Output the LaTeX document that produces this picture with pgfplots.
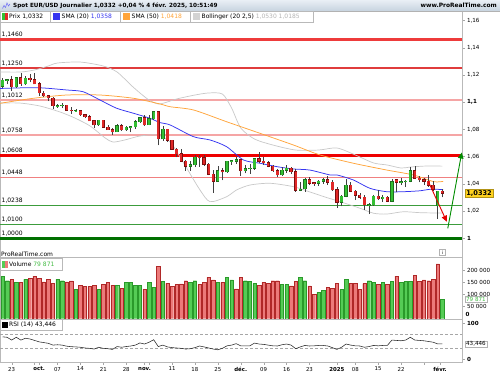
\documentclass[border=0pt]{standalone}
\usepackage{fontspec}
\setmainfont{DejaVu Sans}
\usepackage{pgfplots}
\usepackage{pgfplotstable}
\pgfplotsset{compat=1.18}
\usetikzlibrary{arrows.meta}

\definecolor{cgreen}{HTML}{33C033}
\definecolor{cgreenD}{HTML}{1E6E1E}
\definecolor{cred}{HTML}{E02828}
\definecolor{credD}{HTML}{7A0E0E}
\definecolor{vgreen}{HTML}{55CC55}
\definecolor{vgreenD}{HTML}{2A9A2A}
\definecolor{vred}{HTML}{EC7A7A}
\definecolor{vredD}{HTML}{B02828}
\definecolor{smablue}{HTML}{3535F0}
\definecolor{smaorange}{HTML}{FFA43A}
\definecolor{bollgray}{HTML}{C8C8C8}
\definecolor{lvA}{HTML}{EE3B3B}
\definecolor{lvB}{HTML}{E03C3C}
\definecolor{lvC}{HTML}{F5A5A5}
\definecolor{lvD}{HTML}{EE0000}
\definecolor{lvE}{HTML}{F08080}
\definecolor{lvF}{HTML}{3C9C3C}
\definecolor{lvG}{HTML}{007000}
\definecolor{pbox}{HTML}{FFD21F}
\definecolor{vtxt}{HTML}{44BB44}
\definecolor{hdrA}{HTML}{E9EFF5}
\definecolor{hdrB}{HTML}{C7D3DF}

\newcommand\fs{\fontsize{6}{7}\selectfont}
\newcommand\fss{\fontsize{5.6}{6.5}\selectfont}

\pgfplotstableread{
d O H L C V G
-2 1.1117 1.1180 1.1102 1.1160 175 1
-1 1.1160 1.1168 1.1130 1.1163 156 1
0 1.1165 1.1190 1.1083 1.1111 162 0
1 1.1111 1.1181 1.1106 1.1180 149 1
2 1.1180 1.1214 1.1121 1.1135 149 0
3 1.1133 1.1190 1.1125 1.1177 162 1
4 1.1177 1.1209 1.1145 1.1163 167 0
5 1.1164 1.1210 1.1131 1.1134 175 0
6 1.1134 1.1151 1.1046 1.1067 167 0
7 1.1067 1.1084 1.1034 1.1047 151 0
8 1.1047 1.1052 1.1007 1.1030 162 0
9 1.1030 1.1038 1.0952 1.0975 144 0
10 1.0972 1.0987 1.0960 1.0975 162 1
11 1.0975 1.0992 1.0955 1.0978 156 1
12 1.0978 1.0982 1.0939 1.0940 151 0
13 1.0940 1.0963 1.0915 1.0937 155 0
14 1.0935 1.0951 1.0929 1.0938 121 1
15 1.0938 1.0942 1.0900 1.0908 138 0
16 1.0908 1.0913 1.0883 1.0893 133 0
17 1.0893 1.0905 1.0860 1.0862 133 0
18 1.0862 1.0872 1.0811 1.0832 138 0
19 1.0832 1.0868 1.0825 1.0867 121 1
20 1.0867 1.0870 1.0811 1.0816 140 0
21 1.0816 1.0835 1.0798 1.0798 149 0
22 1.0798 1.0810 1.0761 1.0781 138 0
23 1.0781 1.0839 1.0780 1.0826 138 1
24 1.0826 1.0836 1.0790 1.0796 125 0
25 1.0796 1.0823 1.0790 1.0816 149 1
26 1.0812 1.0822 1.0778 1.0818 149 1
27 1.0818 1.0870 1.0802 1.0856 138 1
28 1.0856 1.0889 1.0847 1.0884 138 1
29 1.0884 1.0905 1.0828 1.0833 121 0
30 1.0833 1.0906 1.0830 1.0877 149 1
31 1.0877 1.0937 1.0870 1.0930 129 1
32 1.0930 1.0937 1.0682 1.0730 216 0
33 1.0730 1.0826 1.0715 1.0800 153 1
34 1.0800 1.0806 1.0710 1.0720 145 0
35 1.0720 1.0722 1.0650 1.0655 133 0
36 1.0655 1.0665 1.0595 1.0622 140 0
37 1.0622 1.0653 1.0560 1.0565 143 0
38 1.0565 1.0572 1.0497 1.0530 156 0
39 1.0530 1.0570 1.0495 1.0540 149 1
40 1.0540 1.0608 1.0522 1.0597 156 1
41 1.0597 1.0610 1.0525 1.0592 140 0
42 1.0592 1.0610 1.0531 1.0545 149 0
43 1.0545 1.0550 1.0462 1.0470 170 0
44 1.0470 1.0498 1.0333 1.0418 159 0
45 1.0418 1.0528 1.0418 1.0495 149 1
46 1.0495 1.0514 1.0425 1.0487 149 0
47 1.0487 1.0570 1.0480 1.0565 170 1
48 1.0565 1.0572 1.0540 1.0568 159 1
49 1.0565 1.0595 1.0545 1.0578 122 0
50 1.0578 1.0580 1.0460 1.0497 170 0
51 1.0497 1.0536 1.0477 1.0510 156 1
52 1.0510 1.0545 1.0474 1.0514 152 1
53 1.0514 1.0587 1.0505 1.0585 144 1
54 1.0585 1.0630 1.0555 1.0567 138 0
55 1.0567 1.0594 1.0540 1.0555 149 0
56 1.0555 1.0565 1.0520 1.0528 144 0
57 1.0528 1.0540 1.0490 1.0496 156 0
58 1.0496 1.0506 1.0450 1.0466 156 0
59 1.0466 1.0524 1.0460 1.0500 140 1
60 1.0500 1.0535 1.0483 1.0513 140 1
61 1.0513 1.0522 1.0472 1.0490 135 0
62 1.0490 1.0510 1.0343 1.0353 154 0
63 1.0353 1.0414 1.0345 1.0362 170 1
64 1.0362 1.0445 1.0343 1.0430 156 1
65 1.0430 1.0447 1.0390 1.0405 135 0
66 1.0407 1.0417 1.0385 1.0403 101 0
67 1.0403 1.0427 1.0385 1.0420 108 1
68 1.0420 1.0446 1.0400 1.0430 115 1
69 1.0430 1.0456 1.0395 1.0410 129 0
70 1.0410 1.0426 1.0350 1.0355 126 0
71 1.0355 1.0375 1.0225 1.0265 144 0
72 1.0265 1.0315 1.0235 1.0307 121 1
73 1.0307 1.0437 1.0300 1.0390 162 1
74 1.0390 1.0410 1.0340 1.0345 144 0
75 1.0345 1.0356 1.0280 1.0315 144 0
76 1.0315 1.0335 1.0290 1.0300 121 0
77 1.0300 1.0315 1.0210 1.0245 144 0
78 1.0240 1.0260 1.0178 1.0246 156 1
79 1.0246 1.0320 1.0240 1.0310 149 1
80 1.0310 1.0355 1.0280 1.0290 140 0
81 1.0290 1.0320 1.0266 1.0300 149 1
82 1.0300 1.0310 1.0265 1.0272 140 0
83 1.0272 1.0435 1.0266 1.0415 153 1
84 1.0430 1.0433 1.0340 1.0410 175 0
85 1.0410 1.0440 1.0390 1.0414 149 1
86 1.0414 1.0425 1.0375 1.0418 153 1
87 1.0418 1.0520 1.0410 1.0495 153 1
88 1.0495 1.0533 1.0435 1.0440 178 0
89 1.0440 1.0460 1.0410 1.0430 153 0
90 1.0430 1.0443 1.0395 1.0420 159 0
91 1.0420 1.0467 1.0380 1.0390 156 0
92 1.0390 1.0420 1.0345 1.0360 163 0
93 1.0240 1.0350 1.0141 1.0345 225 0
94 1.0345 1.0360 1.0300 1.0332 80 1
}\ohlc

\pgfplotstableread{
d p
-2.55 1.1100
5.5 1.1106
12 1.1089
15.6 1.1076
19.3 1.1015
22.9 1.0955
26.6 1.0918
30.2 1.0881
32.4 1.0849
34.6 1.0832
39.7 1.0746
43.3 1.0722
46.9 1.0673
50.6 1.0575
54.2 1.0551
57.9 1.0526
61.5 1.0509
65.1 1.0501
69.5 1.0465
71 1.0465
74.6 1.0428
78.2 1.0367
81.9 1.0342
85.5 1.0342
89.2 1.0349
91.4 1.0360
94.2 1.0358
}\smaA

\pgfplotstableread{
d p
-2.55 1.0991
4.7 1.1028
12 1.1052
19.3 1.1052
26.6 1.1028
32.4 1.0986
34.6 1.0966
39.7 1.0942
46.9 1.0856
54.2 1.0771
61.5 1.0685
67.3 1.0612
74.6 1.0551
81.9 1.0501
87.7 1.0465
92.1 1.0416
94.2 1.0418
}\smaB

\pgfplotstableread{
d p
-2.55 1.1221
2 1.1221
5 1.1236
8 1.1265
10 1.1287
15 1.1294
20 1.1265
23 1.1221
26 1.1126
28 1.1067
30 1.1015
32 1.0986
34 1.1001
36 1.1023
40 1.1052
43 1.1067
46 1.1059
48 1.0957
50 1.0810
53 1.0729
57 1.0685
62 1.0648
67 1.0648
71 1.0663
75 1.0612
79 1.0553
82 1.0538
85 1.0516
87 1.0523
90 1.0530
94 1.0530
}\bollUp

\pgfplotstableread{
d p
-2.55 1.0993
1.8 1.0993
6.2 1.0971
10.6 1.0927
13.8 1.0883
17.1 1.0825
20.4 1.0737
22.1 1.0707
24.7 1.0722
28.0 1.0751
31.7 1.0758
34.6 1.0707
37.8 1.0538
41.1 1.0355
43.3 1.0269
46.9 1.0305
49.1 1.0355
52.0 1.0391
56.4 1.0404
61.5 1.0379
65.1 1.0340
68.4 1.0303
71.7 1.0269
76.1 1.0220
79.0 1.0184
81.9 1.0178
85.5 1.0195
89.2 1.0188
94.2 1.0185
}\bollLo

\pgfplotstableread{
d r
-2 63
-1 61.7
0 54
1 61.7
2 54
3 59
4 57
5 53
6 49
7 47
8 45
9 40
10 41
11 40
12 37
13 35.6
14 35
15 34
16 32
17 31
18 29
19 34
20 31
21 30
22 28
23 36
24 34
25 36
26 37.5
27 40
28 46
29 43
30 48
31 55
32 36
33 40
34 35
35 33
36 32
37 31
38 29
39 30
40 33
41 37.5
42 35
43 32
44 29
45 27
46 31
47 38
48 40
49 44
50 38
51 38
52 38
53 45.6
54 43
55 42
56 40
57 38
58 37.5
59 41
60 43
61 40
62 30
63 35
64 39
65 37.5
66 38
67 39
68 39
69 37.5
70 33
71 28
72 34
73 43
74 40
75 38
76 37.5
77 34
78 36
79 39
80 38
81 39
82 39
83 54
84 53
85 52
86 54
87 61.7
88 54
89 53
90 52
91 50
92 48
93 43.4
94 43.4
}\rsi

\begin{document}
\begin{tikzpicture}[x=1pt,y=1pt]
\useasboundingbox (0pt,0pt) rectangle (500pt,375pt);

% ---------------- PRICE PANEL ----------------
\begin{axis}[at={(0pt,364pt)}, anchor=north west, scale only axis,
  width=462pt, height=246pt,
  xmin=-2.55, xmax=98.3, ymin=0.98627, ymax=1.16689,
  axis line style={draw=gray!55},
  xtick=\empty,
  ytick={1,1.02,1.04,1.06,1.08,1.1,1.12,1.14,1.16},
  yticklabels={{\textbf{1}},{1,02},{1,04},{1,06},{1,08},{\textbf{1,1}},{1,12},{1,14},{1,16}},
  ytick pos=right, yticklabel pos=right,
  tick align=outside, major tick length=2.5pt,
  tick style={draw=gray!70},
  yticklabel style={font=\fss, xshift=-1pt},
  clip=false]

% levels
\addplot[lvA, line width=2.4pt] coordinates {(-2.55,1.1460) (98.3,1.1460)};
\addplot[lvB, line width=1.2pt] coordinates {(-2.55,1.1250) (98.3,1.1250)};
\addplot[lvC, line width=2pt] coordinates {(-2.55,1.1012) (98.3,1.1012)};
\addplot[lvC, line width=2pt] coordinates {(-2.55,1.0758) (98.3,1.0758)};
\addplot[lvD, line width=2.8pt] coordinates {(-2.55,1.0608) (98.3,1.0608)};
\addplot[lvE, line width=1.2pt] coordinates {(-2.55,1.0448) (98.3,1.0448)};
\addplot[lvF, line width=1pt] coordinates {(-2.55,1.0238) (98.3,1.0238)};
\addplot[lvF, line width=1pt] coordinates {(-2.55,1.0100) (98.3,1.0100)};
\addplot[lvG, line width=2.8pt] coordinates {(-2.55,1.0000) (98.3,1.0000)};

\foreach \lv/\lab in {1.1460/{1,1460},1.1250/{1,1250},1.1012/{1,1012},1.0758/{1,0758},1.0608/{1,0608},1.0448/{1,0448},1.0238/{1,0238},1.0100/{1,0100},1.0000/{1,0000}}{
  \edef\temp{\noexpand\node[anchor=south west, inner sep=0pt, font=\noexpand\fs, yshift=2pt, xshift=1.5pt] at (axis cs:-2.55,\lv) {\lab};}
  \temp
}

% bollinger + sma
\addplot[bollgray, line width=0.7pt, smooth, tension=0.45] table[x=d,y=p] {\bollUp};
\addplot[bollgray, line width=0.7pt, smooth, tension=0.45] table[x=d,y=p] {\bollLo};
\addplot[smaorange, line width=0.75pt, smooth, tension=0.45] table[x=d,y=p] {\smaB};
\addplot[smablue, line width=0.75pt, smooth, tension=0.45] table[x=d,y=p] {\smaA};

% wicks
\addplot[draw=none, no markers, error bars/.cd, y dir=plus, y explicit, error mark=none,
  error bar style={line width=0.6pt, draw=black!75}]
  table[x=d, y=L, y error plus expr=\thisrow{H}-\thisrow{L}] {\ohlc};
% up bodies
\addplot[draw=none, no markers, x filter/.expression={\thisrow{C}>=\thisrow{O} ? x : nan},
  error bars/.cd, y dir=plus, y explicit, error mark=none,
  error bar style={line width=3.3pt, draw=cgreenD, shorten <=-0.45pt, shorten >=-0.45pt}]
  table[x=d, y=O, y error plus expr=\thisrow{C}-\thisrow{O}] {\ohlc};
\addplot[draw=none, no markers, x filter/.expression={\thisrow{C}>=\thisrow{O} ? x : nan},
  error bars/.cd, y dir=plus, y explicit, error mark=none,
  error bar style={line width=2.3pt, draw=cgreen}]
  table[x=d, y=O, y error plus expr=\thisrow{C}-\thisrow{O}] {\ohlc};
% down bodies
\addplot[draw=none, no markers, x filter/.expression={\thisrow{C}<\thisrow{O} ? x : nan},
  error bars/.cd, y dir=plus, y explicit, error mark=none,
  error bar style={line width=3.3pt, draw=credD, shorten <=-0.45pt, shorten >=-0.45pt}]
  table[x=d, y=C, y error plus expr=\thisrow{O}-\thisrow{C}] {\ohlc};
\addplot[draw=none, no markers, x filter/.expression={\thisrow{C}<\thisrow{O} ? x : nan},
  error bars/.cd, y dir=plus, y explicit, error mark=none,
  error bar style={line width=2.3pt, draw=cred}]
  table[x=d, y=C, y error plus expr=\thisrow{O}-\thisrow{C}] {\ohlc};

% arrows
\addplot[color=red!90!black, line width=0.9pt, -{Triangle[length=6pt,width=5.5pt]}] coordinates {(90.96,1.0416) (94.98,1.0122)};
\addplot[color=green!55!black, line width=0.9pt, -{Triangle[length=6pt,width=5.5pt]}] coordinates {(95.2,1.0073) (98.25,1.0630)};

% current price box
\node[anchor=west, fill=pbox, draw=pbox!70!black, line width=0.3pt, inner xsep=1.2pt, inner ysep=1.3pt,
  font=\fontsize{6.6}{7}\selectfont\bfseries, xshift=3pt] at (axis cs:98.3,1.0332) {1,0332};
\end{axis}

% ---------------- VOLUME PANEL ----------------
\begin{axis}[at={(0pt,118pt)}, anchor=north west, scale only axis,
  width=462pt, height=62pt,
  xmin=-2.55, xmax=98.3, ymin=-1.23, ymax=253.4,
  axis line style={draw=gray!55},
  xtick=\empty,
  ytick={50,100,150,200},
  yticklabels={{50 000},{100 000},{150 000},{200 000}},
  ytick pos=right, yticklabel pos=right,
  tick align=outside, major tick length=2.5pt,
  tick style={draw=gray!70},
  yticklabel style={font=\fss, xshift=-1pt},
  clip=false]
\addplot[ybar, bar width=3.4pt, bar shift=0pt, fill=vgreen, draw=vgreenD, line width=0.4pt,
  x filter/.expression={\thisrow{G}==1 ? x : nan}] table[x=d, y=V] {\ohlc};
\addplot[ybar, bar width=3.4pt, bar shift=0pt, fill=vred, draw=vredD, line width=0.4pt,
  x filter/.expression={\thisrow{G}==0 ? x : nan}] table[x=d, y=V] {\ohlc};
\node[anchor=west, fill=white, draw=gray!60, line width=0.3pt, inner xsep=1pt, inner ysep=0.8pt,
  font=\fss, text=vtxt, xshift=3pt] at (axis cs:98.3,79.871) {79 871};
\node[anchor=west, font=\fss\bfseries, xshift=3.5pt, inner sep=0pt] at (axis cs:98.3,19) {0};
\end{axis}

% ---------------- RSI PANEL ----------------
\begin{axis}[at={(0pt,56pt)}, anchor=north west, scale only axis,
  width=462pt, height=43pt,
  xmin=-2.55, xmax=98.3, ymin=-6.94, ymax=112.5,
  axis line style={draw=gray!55},
  ytick={0,100},
  yticklabels={{\textbf{0}},{\textbf{100}}},
  ytick pos=right, yticklabel pos=right,
  xtick={0,5,6,10,15,20,25,29,30,35,40,45,50,55,60,65,71,75,80,85,90,93.5},
  xticklabels={23,,{\textbf{oct.}},07,14,21,28,{\textbf{nov.}},,11,18,25,{\textbf{déc.}},09,16,23,{\textbf{2025}},08,15,22,,{\textbf{févr.}}},
  xtick pos=bottom,
  tick align=outside, major tick length=2.5pt,
  tick style={draw=gray!70},
  yticklabel style={font=\fss, xshift=-1pt},
  xticklabel style={font=\fontsize{5.4}{6}\selectfont, yshift=1pt},
  clip=false]
\addplot[gray!70, densely dashed, line width=0.5pt] coordinates {(-2.55,70) (98.3,70)};
\addplot[gray!70, densely dashed, line width=0.5pt] coordinates {(-2.55,30) (98.3,30)};
\addplot[black!85, line width=0.55pt] table[x=d,y=r] {\rsi};
\node[anchor=west, fill=white, draw=gray!60, line width=0.3pt, inner xsep=1pt, inner ysep=0.8pt,
  font=\fss, xshift=3pt] at (axis cs:98.3,43.446) {43,446};
\end{axis}

% ---------------- HEADER / LEGENDS ----------------
\shade[top color=hdrA, bottom color=hdrB] (0pt,364pt) rectangle (500pt,375pt);
\draw[gray!60, line width=0.4pt] (0pt,364pt) -- (500pt,364pt);
\draw[smablue!70, line width=0.6pt] (2.5pt,366.5pt) -- (4pt,369.5pt) -- (5.5pt,367.5pt) -- (7pt,372pt) -- (8.5pt,369pt) -- (10pt,371pt);
\node[anchor=west, inner sep=0pt, font=\fontsize{5.7}{6.5}\selectfont\bfseries] at (13pt,369.5pt)
  {Spot EUR/USD Journalier 1,0332 +0,04 \% 4 févr. 2025, 10:51:49};
\node[anchor=east, inner sep=0pt, font=\fontsize{5.9}{6.5}\selectfont\bfseries] at (497pt,369.5pt) {www.ProRealTime.com};

\draw[gray!55, fill=white, line width=0.4pt] (0pt,353pt) rectangle (313pt,363.5pt);
\fill[cgreen] (1.5pt,355pt) rectangle (4.5pt,361.5pt);
\fill[cred] (4.5pt,355pt) rectangle (7.5pt,361.5pt);
\node[anchor=west, inner sep=0pt, font=\fs] at (9pt,358.2pt) {Prix 1,0332};
\draw[gray!55, line width=0.4pt] (50.5pt,353pt) -- (50.5pt,363.5pt);
\fill[smablue] (53pt,355pt) rectangle (59.5pt,361.5pt);
\node[anchor=west, inner sep=0pt, font=\fs] at (61.5pt,358.2pt) {SMA (20) \textcolor{smablue}{1,0358}};
\draw[gray!55, line width=0.4pt] (120.5pt,353pt) -- (120.5pt,363.5pt);
\fill[smaorange] (123pt,355pt) rectangle (129.5pt,361.5pt);
\node[anchor=west, inner sep=0pt, font=\fs] at (131.5pt,358.2pt) {SMA (50) \textcolor{smaorange}{1,0418}};
\draw[gray!55, line width=0.4pt] (190.5pt,353pt) -- (190.5pt,363.5pt);
\fill[bollgray!80] (193pt,355pt) rectangle (199.5pt,361.5pt);
\node[anchor=west, inner sep=0pt, font=\fs] at (201.5pt,358.2pt) {Bollinger (20 2,5) \textcolor{bollgray!90!black}{1,0530 1,0185}};

\node[anchor=west, inner sep=0pt, font=\fs] at (1pt,121pt) {ProRealTime.com};
\node[draw=gray!60, fill=white, line width=0.3pt, inner sep=0.6pt, minimum size=6pt, font=\fontsize{4.5}{5}\selectfont] at (442.5pt,122.5pt) {i};

\draw[gray!55, fill=white, line width=0.4pt] (0pt,105pt) rectangle (62pt,116.5pt);
\fill[vgreen] (1.5pt,107pt) rectangle (4.5pt,114pt);
\fill[vred] (4.5pt,107pt) rectangle (7.5pt,114pt);
\node[anchor=west, inner sep=0pt, font=\fs] at (9pt,110.6pt) {Volume \textcolor{vtxt}{79 871}};

\draw[gray!55, fill=white, line width=0.4pt] (0pt,45pt) rectangle (62pt,55.5pt);
\fill[black] (1.5pt,47pt) rectangle (7.5pt,53.5pt);
\node[anchor=west, inner sep=0pt, font=\fs] at (9pt,50.2pt) {RSI (14) 43,446};
\end{tikzpicture}
\end{document}
